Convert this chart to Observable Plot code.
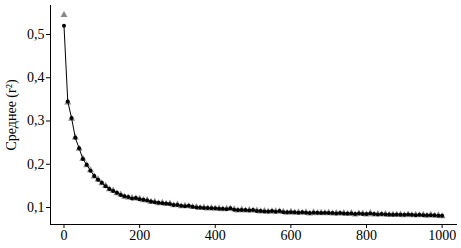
<!DOCTYPE html>
<html>
<head>
<meta charset="utf-8">
<script src="https://cdn.jsdelivr.net/npm/d3@7"></script>
<script src="https://cdn.jsdelivr.net/npm/@observablehq/plot@0.6"></script>
<style>
  html, body { margin: 0; padding: 0; background: #fff; }
  #chart svg { display: block; }
  #chart svg, #chart svg text { font-family: "Liberation Serif", "DejaVu Serif", "Times New Roman", serif !important; font-size: 14px; }
</style>
</head>
<body>
<div id="chart"></div>
<script>
const steps = [0,10,20,30,40,50,60,70,80,90,100,110,120,130,140,150,160,170,180,190,200,210,220,230,240,250,260,270,280,290,300,310,320,330,340,350,360,370,380,390,400,410,420,430,440,450,460,470,480,490,500,510,520,530,540,550,560,570,580,590,600,610,620,630,640,650,660,670,680,690,700,710,720,730,740,750,760,770,780,790,800,810,820,830,840,850,860,870,880,890,900,910,920,930,940,950,960,970,980,990,1000];

const seriesCircle = [.520,.345,.307,.261,.237,.212,.199,.185,.173,.164,.157,.149,.143,.138,.134,.129,.126,.124,.121,.122,.119,.118,.116,.114,.112,.111,.110,.109,.108,.106,.106,.104,.103,.104,.102,.100,.100,.099,.099,.098,.098,.097,.097,.096,.098,.095,.094,.094,.094,.093,.094,.092,.092,.091,.091,.092,.090,.092,.089,.089,.089,.089,.088,.089,.088,.087,.088,.088,.087,.088,.087,.087,.086,.087,.086,.086,.086,.085,.086,.085,.085,.086,.085,.084,.085,.084,.084,.083,.084,.083,.083,.084,.083,.082,.083,.082,.082,.082,.082,.081,.081];

const seriesTriangle = [.545,.343,.305,.262,.236,.213,.198,.186,.172,.165,.156,.150,.142,.139,.133,.130,.125,.123,.122,.121,.120,.117,.117,.113,.113,.110,.111,.108,.109,.105,.107,.103,.104,.103,.101,.101,.099,.100,.098,.099,.097,.098,.096,.097,.097,.096,.093,.095,.093,.094,.093,.093,.091,.092,.090,.091,.091,.091,.090,.088,.090,.088,.089,.088,.089,.086,.089,.087,.088,.087,.088,.086,.087,.086,.087,.085,.087,.084,.086,.086,.084,.087,.084,.085,.084,.085,.083,.084,.083,.084,.082,.084,.082,.083,.082,.083,.081,.083,.081,.082,.080];

const xTicks = [0,200,400,600,800,1000];
const yTicks = [0.1,0.2,0.3,0.4,0.5];
const yLabel = "Среднее (r²)";

const circles = steps.map((x, i) => ({x, y: seriesCircle[i]}));
const triangles = steps.map((x, i) => ({x, y: seriesTriangle[i]}));

const chart = Plot.plot({
  width: 461,
  height: 248,
  marginLeft: 50,
  marginRight: 5,
  marginTop: 5,
  marginBottom: 24,
  style: {fontSize: "14px", color: "#000", background: "#fff"},
  x: {
    domain: [-35.7, 1038],
    ticks: xTicks,
    tickSize: 4,
    tickPadding: 2,
    tickFormat: d => String(d),
    line: true,
    label: null
  },
  y: {
    domain: [0.0607, 0.567],
    ticks: yTicks,
    tickSize: 4,
    tickPadding: 2,
    tickFormat: d => d.toFixed(1).replace(".", ","),
    line: true,
    label: yLabel,
    labelArrow: "none",
    labelAnchor: "center",
    labelOffset: 44
  },
  marks: [
    Plot.dot(triangles, {x: "x", y: "y", symbol: "triangle", r: 2.6, fill: "#8a8a8a", stroke: "none"}),
    Plot.line(circles, {x: "x", y: "y", stroke: "#000", strokeWidth: 1}),
    Plot.dot(circles, {x: "x", y: "y", r: 2, fill: "#000", stroke: "none"})
  ]
});
chart.querySelectorAll("text").forEach(t => {
  t.setAttribute("font-family", "Liberation Serif");
  t.style.fontFamily = '"Liberation Serif", "DejaVu Serif", serif';
});
document.getElementById("chart").appendChild(chart);
</script>
</body>
</html>
